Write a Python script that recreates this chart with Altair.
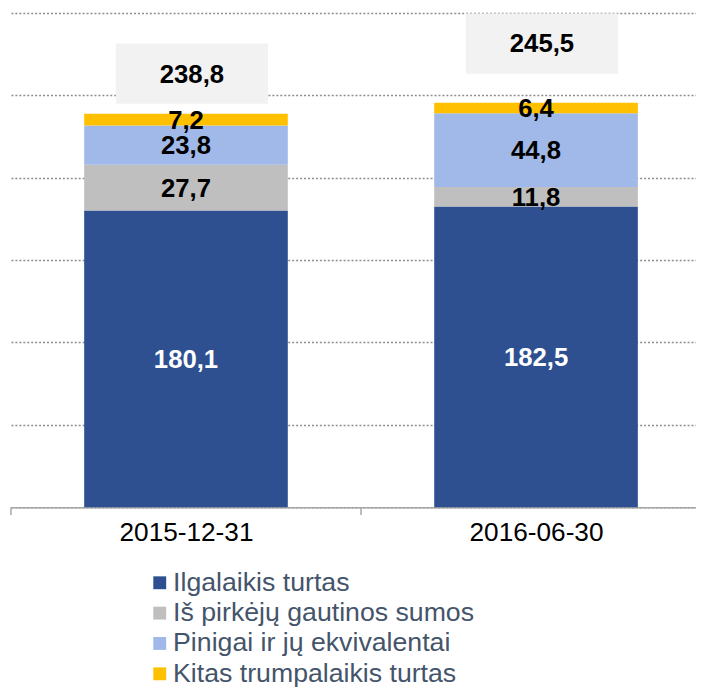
import altair as alt
import pandas as pd

categories = ["2015-12-31", "2016-06-30"]
series = ["Ilgalaikis turtas", "Iš pirkėjų gautinos sumos",
          "Pinigai ir jų ekvivalentai", "Kitas trumpalaikis turtas"]
ilgalaikis = [180.1, 182.5]
pirkeju = [27.7, 11.8]
pinigai = [23.8, 44.8]
kitas = [7.2, 6.4]
totals = [238.8, 245.5]
total_labels = ["238,8", "245,5"]

colors = ["#2E5090", "#BFBFBF", "#A0B9E8", "#FFC000"]
label_colors = ["white", "black", "black", "black"]

# layout constants for the total-label boxes (data units above the bar top)
box_lift = {"2015-12-31": 24.3, "2016-06-30": 35.9}
box_half = 18.3

rows = []
for ci, cat in enumerate(categories):
    base = 0.0
    for si, (name, vals) in enumerate(zip(series, [ilgalaikis, pirkeju, pinigai, kitas])):
        v = vals[ci]
        rows.append({
            "cat": cat, "pos": ci + 0.5, "series": name, "value": v,
            "start": base, "end": base + v, "mid": base + v / 2,
            "label": f"{v:.1f}".replace(".", ","), "lcolor": label_colors[si],
        })
        base += v
df = pd.DataFrame(rows)

tot = pd.DataFrame({"cat": categories, "pos": [i + 0.5 for i in range(len(categories))],
                    "total": totals, "label": total_labels})
tot["center"] = [t + box_lift[c] for c, t in zip(categories, totals)]
tot["b0"] = tot["center"] - box_half
tot["b1"] = tot["center"] + box_half

edges = pd.DataFrame({"edge": list(range(len(categories)))})

FONT = "Liberation Sans"
W, H = 693, 500
x_scale = alt.Scale(domain=[0, 1.957], nice=False, zero=False, padding=0)
y_scale = alt.Scale(domain=[0, 300], nice=False, padding=0)

label_expr = "[" + ",".join(f"'{c}'" for c in categories) + "][floor(datum.value)]"

bars = alt.Chart(df).mark_bar(size=206).encode(
    x=alt.X("pos:Q", scale=x_scale, title=None,
            axis=alt.Axis(values=[i + 0.5 for i in range(len(categories))],
                          labelExpr=label_expr, labelFontSize=26.5, labelColor="black",
                          labelFont=FONT, labelAngle=0, labelPadding=13, ticks=False,
                          domainColor="#A6A6A6", domainWidth=1.5, grid=False)),
    y=alt.Y("start:Q", scale=y_scale, title=None,
            axis=alt.Axis(values=[0, 50, 100, 150, 200, 250, 300], labels=False,
                          ticks=False, domain=False, grid=True,
                          gridColor="#8C8C8C", gridDash=[2, 2], gridWidth=1.5)),
    y2="end:Q",
    color=alt.Color("series:N", sort=series,
                    scale=alt.Scale(domain=series, range=colors),
                    legend=alt.Legend(title=None, orient="none", legendX=137, legendY=563,
                                      direction="vertical", symbolType="square",
                                      symbolSize=170, symbolStrokeWidth=0,
                                      labelFontSize=27, labelFont=FONT,
                                      labelColor="#44546A", labelOffset=0,
                                      rowPadding=2.7, padding=0, labelLimit=600)),
)

ticks = alt.Chart(edges).mark_rule(color="#A6A6A6", strokeWidth=1.5).encode(
    x=alt.X("edge:Q", scale=x_scale),
    y=alt.value(H),
    y2=alt.value(H + 8),
)

seg_text = alt.Chart(df).mark_text(font=FONT, fontSize=26, fontWeight="bold",
                                   baseline="middle", dy=1).encode(
    x=alt.X("pos:Q", scale=x_scale),
    y=alt.Y("mid:Q", scale=y_scale),
    text="label:N",
    color=alt.Color("lcolor:N", scale=None, legend=None),
)

boxes = alt.Chart(tot).mark_bar(size=154, color="#F2F2F2", xOffset=6).encode(
    x=alt.X("pos:Q", scale=x_scale),
    y=alt.Y("b0:Q", scale=y_scale),
    y2="b1:Q",
)

box_text = alt.Chart(tot).mark_text(font=FONT, fontSize=26, fontWeight="bold",
                                    baseline="middle", color="black", xOffset=6, dy=1).encode(
    x=alt.X("pos:Q", scale=x_scale),
    y=alt.Y("center:Q", scale=y_scale),
    text="label:N",
)

chart = alt.layer(bars, ticks, boxes, seg_text, box_text).properties(
    width=W, height=H,
    padding={"left": 3, "top": 1, "right": 0, "bottom": 180},
    autosize=alt.AutoSizeParams(type="none"),
).configure_view(stroke=None)

chart.save("out.html", embed_options={"renderer": "svg", "actions": False})
